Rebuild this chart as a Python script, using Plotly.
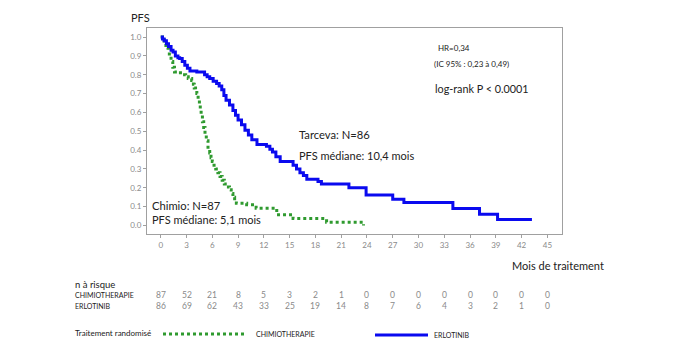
import plotly.graph_objects as go

# ---- data ----
erlo_t = [0, 0.2, 0.4, 0.66, 0.9, 1.2, 1.43, 1.7, 2.0, 2.2, 2.5, 2.8, 3.1, 3.4, 4.2,
          5.1, 5.4, 5.7, 6.1, 6.5, 6.8, 7.1, 7.35, 7.6, 8.0, 8.4, 8.7, 9.0, 9.4, 9.8,
          10.2, 10.6, 11.2, 12.3, 12.7, 13.0, 13.4, 13.9, 15.4, 15.8, 16.2, 16.6, 17.0,
          18.3, 18.7, 21.9, 23.9, 27.0, 28.3, 34.0, 37.1, 39.2, 43.2]
erlo_s = [1.0, 0.99, 0.98, 0.965, 0.95, 0.93, 0.92, 0.90, 0.89, 0.886, 0.87, 0.85,
          0.835, 0.82, 0.815, 0.80, 0.79, 0.78, 0.765, 0.753, 0.74, 0.72, 0.69, 0.665,
          0.64, 0.61, 0.585, 0.56, 0.535, 0.506, 0.48, 0.455, 0.43, 0.42, 0.405, 0.39,
          0.365, 0.34, 0.32, 0.30, 0.28, 0.265, 0.245, 0.233, 0.22, 0.20, 0.162, 0.14,
          0.122, 0.09, 0.06, 0.032, 0.032]

chemo_t = [0, 0.2, 0.4, 0.6, 0.85, 1.0, 1.2, 1.4, 1.6, 2.0, 2.5, 2.9, 3.2, 3.6, 3.8,
           3.9, 4.05, 4.2, 4.35, 4.5, 4.6, 4.7, 4.85, 5.0, 5.15, 5.3, 5.5, 5.7, 5.85,
           6.0, 6.2, 6.4, 6.65, 6.9, 7.15, 7.4, 7.7, 8.0, 8.2, 8.4, 8.6, 8.8, 10.0,
           11.1, 13.5, 15.4, 19.3, 23.6]
chemo_s = [1.0, 0.985, 0.97, 0.955, 0.94, 0.90, 0.87, 0.84, 0.815, 0.81, 0.80, 0.79,
           0.78, 0.77, 0.75, 0.73, 0.715, 0.70, 0.67, 0.64, 0.61, 0.585, 0.55, 0.52,
           0.485, 0.45, 0.415, 0.385, 0.36, 0.34, 0.32, 0.30, 0.28, 0.26, 0.24, 0.22,
           0.205, 0.19, 0.17, 0.15, 0.134, 0.118, 0.11, 0.092, 0.057, 0.037, 0.018, 0.0]

risk_times = [0, 3, 6, 9, 12, 15, 18, 21, 24, 27, 30, 33, 36, 39, 42, 45]
risk_chemo = [87, 52, 21, 8, 5, 3, 2, 1, 0, 0, 0, 0, 0, 0, 0, 0]
risk_erlo = [86, 69, 62, 43, 33, 25, 19, 14, 8, 7, 6, 4, 3, 2, 1, 0]

y_ticks = [0.0, 0.1, 0.2, 0.3, 0.4, 0.5, 0.6, 0.7, 0.8, 0.9, 1.0]

BLUE = "#0a0aef"
GREEN = "#2f9a2f"
GREY = "#8a8a8a"
FONT = "Lato"

W, H = 675, 348
L, R, T, B = 147, 113, 28, 114
PW, PH = W - L - R, H - T - B


def px(x):
    return (x - L) / PW


def py(y):
    return (H - B - y) / PH


fig = go.Figure()
fig.add_trace(go.Scatter(x=chemo_t, y=chemo_s, mode="lines", line_shape="hv",
                         line=dict(color=GREEN, width=3, dash="dot"),
                         name="CHIMIOTHERAPIE", showlegend=False))
fig.add_trace(go.Scatter(x=erlo_t, y=erlo_s, mode="lines", line_shape="hv",
                         line=dict(color=BLUE, width=3),
                         name="ERLOTINIB", showlegend=False))

ann = []


def text(x, y, s, size, color="#222", xref="paper", xanchor="left", family=FONT):
    ann.append(dict(x=x, y=y, xref=xref, yref="paper", text=s, showarrow=False,
                    xanchor=xanchor, yanchor="middle",
                    font=dict(size=size, color=color, family=family)))


text(px(129), py(17), "PFS", 11)
text(px(510), py(265), "Mois de traitement", 11)
text(px(436), py(48), "HR=0,34", 8)
text(px(432), py(64), "(IC 95% : 0,23 à 0,49)", 8)
text(px(433), py(88), "log-rank P &lt; 0.0001", 10.8)
text(px(297), py(134), "Tarceva: N=86", 11.2)
text(px(297), py(155), "PFS médiane: 10,4 mois", 11)
text(px(150), py(205), "Chimio: N=87", 11.2)
text(px(150), py(219), "PFS médiane: 5,1 mois", 11)

text(px(73), py(284), "n à risque", 9.5)
text(px(73), py(295), "CHIMIOTHERAPIE", 7)
text(px(73), py(306), "ERLOTINIB", 7)
for t, c, e in zip(risk_times, risk_chemo, risk_erlo):
    text(t, py(295), str(c), 8.5, GREY, xref="x", xanchor="center")
    text(t, py(306), str(e), 8.5, GREY, xref="x", xanchor="center")

text(px(73), py(333), "Traitement randomisé", 8)
text(px(254), py(334), "CHIMIOTHERAPIE", 7)
text(px(432), py(335), "ERLOTINIB", 7)

shapes = [
    dict(type="line", xref="paper", yref="paper", x0=px(163), x1=px(246),
         y0=py(334), y1=py(334), line=dict(color=GREEN, width=3, dash="dot")),
    dict(type="line", xref="paper", yref="paper", x0=px(375), x1=px(428),
         y0=py(335), y1=py(335), line=dict(color=BLUE, width=3)),
]

axis_common = dict(showline=True, linecolor="#a0a0a0", linewidth=1, mirror=True,
                   showgrid=False, zeroline=False, ticks="outside", ticklen=3,
                   tickcolor="#a0a0a0", tickfont=dict(size=8, color=GREY, family=FONT))

fig.update_layout(
    width=W, height=H,
    margin=dict(l=L, r=R, t=T, b=B),
    paper_bgcolor="white", plot_bgcolor="white",
    xaxis=dict(range=[-1.6, 46.7], tickvals=risk_times, **axis_common),
    yaxis=dict(range=[-0.045, 1.048], tickvals=y_ticks, tickformat=".1f", **axis_common),
    annotations=ann, shapes=shapes,
)

fig.write_html("out.html")
